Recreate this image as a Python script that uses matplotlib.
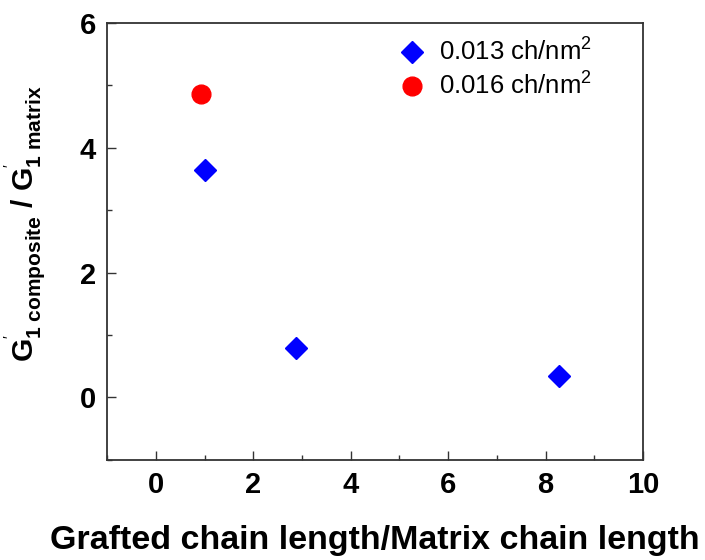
import matplotlib
matplotlib.use("Agg")
import matplotlib.pyplot as plt
from matplotlib.ticker import MultipleLocator

plt.rcParams['font.family'] = ['Liberation Sans', 'DejaVu Sans']
plt.rcParams['mathtext.fontset'] = 'custom'
plt.rcParams['mathtext.rm'] = 'Liberation Sans'
plt.rcParams['mathtext.bf'] = 'Liberation Sans:bold'
plt.rcParams['mathtext.it'] = 'Liberation Sans:italic'

# data
ratio_013 = [1.0, 2.88, 8.27]
g_013 = [3.65, 0.79, 0.34]
ratio_016 = [0.92]
g_016 = [4.86]

label_013 = r'0.013 ch/nm$^\mathregular{2}$'
label_016 = r'0.016 ch/nm$^\mathregular{2}$'

fig = plt.figure(figsize=(7.05, 5.6), dpi=100)
ax = fig.add_axes([0.152, 0.179, 0.760, 0.780])

ax.plot(ratio_013, g_013, linestyle='none', marker='D', markersize=11.5,
        color='#0000ff', markeredgecolor='#0000ff', label=label_013)
ax.plot(ratio_016, g_016, linestyle='none', marker='o', markersize=13.5,
        color='#ff0000', markeredgecolor='#ff0000', label=label_016)

ax.set_xlim(-1, 10)
ax.set_ylim(-1, 6)
ax.xaxis.set_major_locator(MultipleLocator(2))
ax.xaxis.set_minor_locator(MultipleLocator(1))
ax.yaxis.set_major_locator(MultipleLocator(2))
ax.yaxis.set_minor_locator(MultipleLocator(1))

ax.tick_params(which='both', direction='in', top=False, right=False,
               width=1.0, color='#333333')
ax.tick_params(which='major', length=6.5, labelsize=21, pad=8)
ax.tick_params(which='minor', length=3.5)
for lab in ax.get_xticklabels() + ax.get_yticklabels():
    lab.set_fontweight('bold')
for sp in ax.spines.values():
    sp.set_linewidth(1.3)
    sp.set_color('#333333')

ax.set_xlabel('Grafted chain length/Matrix chain length', fontsize=24.5,
              fontweight='bold', labelpad=19)
ax.set_ylabel(r"$\mathbf{G}^{'}_{\mathbf{1\ composite}}\ \mathbf{/\ G}^{'}_{\mathbf{1\ matrix}}$",
              fontsize=21.5)
ax.yaxis.set_label_coords(-0.11, 0.54)

ax.legend(loc='upper left', bbox_to_anchor=(0.512, 1.0), frameon=False,
          fontsize=18.5, handletextpad=0.45, labelspacing=0.27,
          handlelength=1.2, borderpad=0.1)

fig.savefig('out.png', dpi=100, facecolor='white')
